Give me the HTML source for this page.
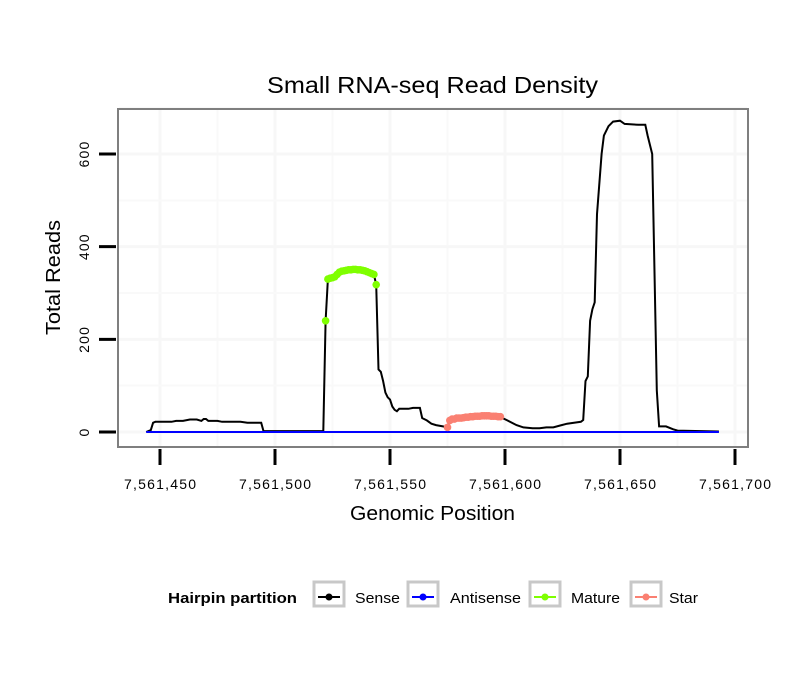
<!DOCTYPE html>
<html><head><meta charset="utf-8"><style>
body{margin:0;background:#fff;}
svg{display:block;font-family:"Liberation Sans",sans-serif;}
</style></head><body>
<svg id="chart" width="810" height="690">
<rect x="0" y="0" width="810" height="690" fill="#fff"/>
<text x="267" y="93" font-size="23" textLength="331" lengthAdjust="spacingAndGlyphs">Small RNA-seq Read Density</text>
<rect x="118" y="109" width="630" height="338" fill="#fff"/>
<g id="grid"></g>
<g id="series"></g>
<rect x="118" y="109" width="630" height="338" fill="none" stroke="#7f7f7f" stroke-width="2"/>
<g id="axes"></g>
<text x="350" y="520" font-size="20" textLength="165" lengthAdjust="spacingAndGlyphs">Genomic Position</text>
<text transform="translate(60,335) rotate(-90)" font-size="20" textLength="115" lengthAdjust="spacingAndGlyphs">Total Reads</text>
<g>
<text x="168" y="603" font-size="15" font-weight="bold" textLength="129" lengthAdjust="spacingAndGlyphs">Hairpin partition</text>
<g><rect x="314" y="582" width="30" height="24" fill="#fff" stroke="#c8c8c8" stroke-width="3"/><line x1="318" y1="597" x2="340" y2="597" stroke="#000" stroke-width="2"/><circle cx="329" cy="597" r="3.5" fill="#000"/><text x="355" y="603" font-size="15" textLength="45" lengthAdjust="spacingAndGlyphs">Sense</text></g>
<g><rect x="408" y="582" width="30" height="24" fill="#fff" stroke="#c8c8c8" stroke-width="3"/><line x1="412" y1="597" x2="434" y2="597" stroke="#0000ff" stroke-width="2"/><circle cx="423" cy="597" r="3.5" fill="#0000ff"/><text x="450" y="603" font-size="15" textLength="71" lengthAdjust="spacingAndGlyphs">Antisense</text></g>
<g><rect x="530" y="582" width="30" height="24" fill="#fff" stroke="#c8c8c8" stroke-width="3"/><line x1="534" y1="597" x2="556" y2="597" stroke="#7fff00" stroke-width="2"/><circle cx="545" cy="597" r="3.5" fill="#7fff00"/><text x="571" y="603" font-size="15" textLength="49" lengthAdjust="spacingAndGlyphs">Mature</text></g>
<g><rect x="631" y="582" width="30" height="24" fill="#fff" stroke="#c8c8c8" stroke-width="3"/><line x1="635" y1="597" x2="657" y2="597" stroke="#fa8072" stroke-width="2"/><circle cx="646" cy="597" r="3.5" fill="#fa8072"/><text x="669" y="603" font-size="15" textLength="29" lengthAdjust="spacingAndGlyphs">Star</text></g>
</g>
</svg>
<script>
const xTicks=[7561450,7561500,7561550,7561600,7561650,7561700];
const xTickLabels=["7,561,450","7,561,500","7,561,550","7,561,600","7,561,650","7,561,700"];
const yTicks=[0,200,400,600];
const senseOffsets=[44,46,47,48,55,57,60,63,66,68,69,70,71,75,77,85,88,94,95,121,122,123,124,125,126,127,128,129,130,131,132,133,134,135,136,137,138,139,140,141,142,143,144,145,146,147,148,149,150,151,152,153,154,158,160,163,164,166,168,170,173,175,176,177,178,179,180,181,182,183,184,185,186,187,188,189,190,191,192,193,194,195,196,197,198,199,201,205,208,212,215,218,221,224,227,230,233,234,235,236,237,238,239,240,242,243,245,247,250,252,258,261,262,263,264,266,267,270,273,275,293];
const senseValues=[0,4,20,22,22,24,24,27,27,24,28,28,24,24,22,22,20,20,2,2,240,330,332,333,335,340,345,347,348,349,350,350,351,351,350,350,349,348,346,344,342,340,318,135,130,110,85,75,70,55,48,45,50,50,52,52,30,25,18,15,12,10,25,28,28,30,30,30,31,32,32,33,33,34,34,34,35,35,35,35,34,34,34,33,33,30,25,15,10,8,8,10,10,14,18,20,22,26,110,120,240,265,280,470,600,640,660,670,672,665,663,663,640,620,600,90,12,12,6,3,1];
const antisenseOffsets=[44,293];
const antisenseValues=[0,0];
const matureOffsets=[122,123,124,125,126,127,128,129,130,131,132,133,134,135,136,137,138,139,140,141,142,143,144];
const matureValues=[240,330,332,333,335,340,345,347,348,349,350,350,351,351,350,350,349,348,346,344,342,340,318];
const starOffsets=[175,176,177,178,179,180,181,182,183,184,185,186,187,188,189,190,191,192,193,194,195,196,197,198];
const starValues=[10,25,28,28,30,30,30,31,32,32,33,33,34,34,34,35,35,35,35,34,34,34,33,33];
const BASE=7561400;
const NS="http://www.w3.org/2000/svg";
function xs(p){return 160+(p-7561450)*2.3;}
function ys(v){return 432-v*0.4633;}
function mk(tag,attrs,parent){const e=document.createElementNS(NS,tag);for(const k in attrs)e.setAttribute(k,attrs[k]);parent.appendChild(e);return e;}
const grid=document.getElementById('grid'),axes=document.getElementById('axes'),series=document.getElementById('series');
for(let i=0;i<xTicks.length;i++){
 const gl=mk('line',{x1:xs(xTicks[i]),x2:xs(xTicks[i]),y1:110,y2:446,stroke:'#f7f7f7','stroke-width':3},grid);
 
 
 if(i<xTicks.length-1){const m=(xTicks[i]+xTicks[i+1])/2;
 const gm=mk('line',{x1:xs(m),x2:xs(m),y1:110,y2:446,stroke:'#f9f9f9','stroke-width':2},grid);
 
 }
}
for(let i=0;i<yTicks.length;i++){
 const gl=mk('line',{x1:119,x2:747,y1:ys(yTicks[i]),y2:ys(yTicks[i]),stroke:'#f7f7f7','stroke-width':3},grid);
 
 
 const m=yTicks[i]+100;
 const gm=mk('line',{x1:119,x2:747,y1:ys(m),y2:ys(m),stroke:'#f9f9f9','stroke-width':2},grid);
 
 
}
for(let i=0;i<xTicks.length;i++){
 const t=mk('line',{x1:xs(xTicks[i]),x2:xs(xTicks[i]),y1:449,y2:465,stroke:'#000','stroke-width':3},axes);
 
 
 const l=mk('text',{x:xs(xTicks[i])-36,y:489,'font-size':14,textLength:72,lengthAdjust:'spacing'},axes);
 l.textContent=xTickLabels[i];
 
 
}
for(let i=0;i<yTicks.length;i++){
 const t=mk('line',{x1:99,x2:116,y1:ys(yTicks[i]),y2:ys(yTicks[i]),stroke:'#000','stroke-width':3},axes);
 
 
 const l=mk('text',{transform:'translate(89,'+ys(yTicks[i])+') rotate(-90)','text-anchor':'middle','font-size':14,'letter-spacing':1.2},axes);
 l.textContent=String(yTicks[i]);
 
 
}
function pts(o,v){return o.map((d,i)=>xs(BASE+d).toFixed(1)+','+ys(v[i]).toFixed(1)).join(' ');}
const sl=mk('polyline',{points:pts(senseOffsets,senseValues),fill:'none',stroke:'#000','stroke-width':2},series);


const al=mk('polyline',{points:pts(antisenseOffsets,antisenseValues),fill:'none',stroke:'#0000ff','stroke-width':2},series);


function dots(o,v,c,name){
 for(let i=0;i<o.length;i++){
  const p=mk('circle',{cx:xs(BASE+o[i]),cy:ys(v[i]),r:3.8,fill:c},series);
  
  
 }
}
dots(matureOffsets,matureValues,'#7fff00','mature-point');
dots(starOffsets,starValues,'#fa8072','star-point');
</script>
</body></html>
